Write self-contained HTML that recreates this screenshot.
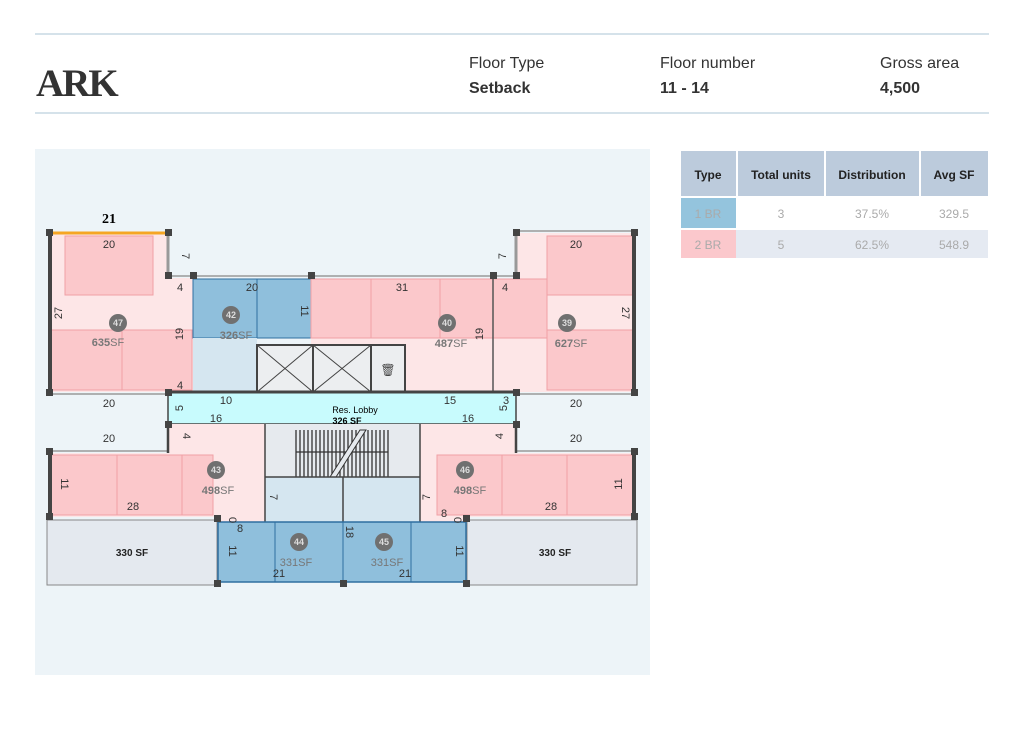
<!DOCTYPE html>
<html><head><meta charset="utf-8"><style>
body{margin:0;width:1024px;height:724px;background:#fff;font-family:"Liberation Sans",sans-serif;overflow:hidden}
svg text{font-family:"Liberation Sans",sans-serif}
</style></head><body>
<svg width="1024" height="724" viewBox="0 0 1024 724" xmlns="http://www.w3.org/2000/svg">
<line x1="35" y1="34" x2="989" y2="34" stroke="#d5e2ea" stroke-width="2"/>
<line x1="35" y1="113" x2="989" y2="113" stroke="#d5e2ea" stroke-width="2"/>
<text x="36" y="96" style="font-family:'Liberation Serif',serif;font-size:39px;font-weight:bold;letter-spacing:-2px" fill="#333">ARK</text>
<g font-size="16" fill="#333">
<text x="469" y="68">Floor Type</text><text x="469" y="93" font-weight="bold">Setback</text>
<text x="660" y="68">Floor number</text><text x="660" y="93" font-weight="bold">11 - 14</text>
<text x="880" y="68">Gross area</text><text x="880" y="93" font-weight="bold">4,500</text>
</g>
<!-- table -->
<g font-size="12" text-anchor="middle">
<rect x="681" y="151" width="55" height="45" fill="#bccbdc"/>
<rect x="738" y="151" width="86" height="45" fill="#bccbdc"/>
<rect x="826" y="151" width="93" height="45" fill="#bccbdc"/>
<rect x="921" y="151" width="67" height="45" fill="#bccbdc"/>
<g fill="#222" font-weight="bold"><text x="708" y="179">Type</text><text x="781" y="179">Total units</text><text x="872" y="179">Distribution</text><text x="954" y="179">Avg SF</text></g>
<rect x="681" y="198" width="55" height="30" fill="#94c4dd"/>
<rect x="681" y="230" width="307" height="28" fill="#e5eaf2"/>
<rect x="681" y="230" width="55" height="28" fill="#fbc8cc"/>
<g fill="#aaa"><text x="708" y="218">1 BR</text><text x="781" y="218">3</text><text x="872" y="218">37.5%</text><text x="954" y="218">329.5</text>
<text x="708" y="249">2 BR</text><text x="781" y="249">5</text><text x="872" y="249">62.5%</text><text x="954" y="249">548.9</text></g>
</g>
<!-- plan bg -->
<rect x="35" y="149" width="615" height="526" fill="#edf4f8"/>
<!-- grey 330 -->
<rect x="47" y="520" width="170" height="65" fill="#e4e9ef" stroke="#888" stroke-width="1"/>
<rect x="467" y="520" width="170" height="65" fill="#e4e9ef" stroke="#888" stroke-width="1"/>
<g font-size="10" font-weight="bold" fill="#222" text-anchor="middle"><text x="132" y="556">330 SF</text><text x="555" y="556">330 SF</text></g>
<!-- unit 47 -->
<path d="M50 233H168V278H193V392H50Z" fill="#fde6e7"/>
<rect x="65" y="236" width="88" height="59" fill="#fbc8cb" stroke="#f0a0a6"/>
<rect x="51" y="330" width="141" height="60" fill="#fbc8cb" stroke="#f0a0a6"/>
<line x1="122" y1="330" x2="122" y2="390" stroke="#f0a0a6"/>
<line x1="50" y1="230" x2="50" y2="392" stroke="#444" stroke-width="4"/>
<line x1="168" y1="233" x2="168" y2="278" stroke="#999" stroke-width="3"/>
<line x1="48" y1="233" x2="170" y2="233" stroke="#f5a623" stroke-width="3"/>
<text x="109" y="223" style="font-family:'Liberation Serif',serif;font-size:14px;font-weight:bold" text-anchor="middle">21</text>
<!-- unit 42 -->
<rect x="193" y="279" width="118" height="59" fill="#8fbfdc" stroke="#2f6fa0"/>
<line x1="257" y1="279" x2="257" y2="338" stroke="#2f6fa0"/>
<rect x="193" y="338" width="64" height="54" fill="#d5e6f0"/>
<!-- unit 40 -->
<rect x="311" y="279" width="182" height="113" fill="#fde6e7"/>
<rect x="311" y="279" width="182" height="59" fill="#fbc8cb" stroke="#f0a0a6"/>
<line x1="371" y1="279" x2="371" y2="338" stroke="#f0a0a6"/>
<line x1="440" y1="279" x2="440" y2="338" stroke="#f0a0a6"/>
<!-- elevators -->
<g stroke="#444" stroke-width="2" fill="#eceef0">
<rect x="257" y="345" width="56" height="47"/><rect x="313" y="345" width="58" height="47"/><rect x="371" y="345" width="34" height="47"/>
</g>
<g stroke="#444" stroke-width="1"><path d="M257 345L313 392M313 345L257 392M313 345L371 392M371 345L313 392"/></g>
<text x="388" y="374" font-size="12" text-anchor="middle" fill="#444">🗑</text>
<!-- unit 39 -->
<path d="M516 233H633V392H493V279H516Z" fill="#fde6e7"/>
<rect x="547" y="236" width="86" height="59" fill="#fbc8cb" stroke="#f0a0a6"/>
<rect x="493" y="279" width="54" height="59" fill="#fbc8cb" stroke="#f0a0a6"/>
<rect x="547" y="330" width="86" height="60" fill="#fbc8cb" stroke="#f0a0a6"/>
<line x1="634" y1="233" x2="634" y2="392" stroke="#444" stroke-width="4"/>
<line x1="516" y1="233" x2="516" y2="279" stroke="#999" stroke-width="3"/>
<line x1="493" y1="279" x2="493" y2="392" stroke="#555" stroke-width="1.5"/>
<!-- outer thin walls -->
<g stroke="#999" stroke-width="1.5" fill="none">
<path d="M168 276H311M311 276H493M493 276H516M516 231H634M50 394H168M516 394H634"/>
</g>
<!-- lobby -->
<rect x="168" y="392" width="348" height="32" fill="#c8fbfd" stroke="#444" stroke-width="1.5"/>
<line x1="168" y1="392" x2="516" y2="392" stroke="#444" stroke-width="3"/>
<text x="355" y="413" font-size="9" text-anchor="middle">Res. Lobby</text>
<text x="347" y="424" font-size="9" font-weight="bold" text-anchor="middle">326 SF</text>
<!-- lower left 43 -->
<path d="M168 424H265V522H218V517H50V453H168Z" fill="#fde6e7"/>
<rect x="51" y="455" width="162" height="60" fill="#fbc8cb" stroke="#f0a0a6"/>
<line x1="117" y1="455" x2="117" y2="515" stroke="#f0a0a6"/><line x1="182" y1="455" x2="182" y2="515" stroke="#f0a0a6"/>
<line x1="50" y1="451" x2="50" y2="519" stroke="#444" stroke-width="4"/>
<!-- lower right 46 -->
<path d="M420 424H516V453H634V517H466V522H420Z" fill="#fde6e7"/>
<rect x="437" y="455" width="196" height="60" fill="#fbc8cb" stroke="#f0a0a6"/>
<line x1="502" y1="455" x2="502" y2="515" stroke="#f0a0a6"/><line x1="567" y1="455" x2="567" y2="515" stroke="#f0a0a6"/>
<line x1="634" y1="451" x2="634" y2="519" stroke="#444" stroke-width="4"/>
<g stroke="#999" stroke-width="1.5"><path d="M50 451H168M516 451H634"/></g>
<g stroke="#444" stroke-width="2.5"><path d="M168 424V453M516 424V453"/></g>
<!-- stairs -->
<rect x="265" y="424" width="155" height="53" fill="#e6eaee"/>
<rect x="265" y="477" width="155" height="45" fill="#d5e6f0"/>
<g stroke="#333" stroke-width="1.3">
<path d="M296 430V477M300 430V477M304 430V477M308 430V477M312 430V477M316 430V477M320 430V477M324 430V477M328 430V477M332 430V477M336 430V477M340 430V477M344 430V477M348 430V477M352 430V477M356 430V477M360 430V477M364 430V477M368 430V477M372 430V477M376 430V477M380 430V477M384 430V477M388 430V477"/>
<path d="M296 452H388"/></g>
<path d="M330 477L360 430L366 430L336 477Z" fill="#e6eaee" stroke="#333"/>
<g stroke="#444" stroke-width="1.5" fill="none"><path d="M265 424V522M420 424V522M343 477V582M265 477H420"/></g>
<!-- units 44/45 -->
<rect x="218" y="522" width="248" height="60" fill="#8fbfdc" stroke="#2f6fa0" stroke-width="1.5"/>
<g stroke="#2f6fa0"><path d="M275 522V582M411 522V582M343 522V582"/></g>
<!-- posts -->
<g fill="#444">
<rect x="46" y="229" width="7" height="7"/><rect x="165" y="229" width="7" height="7"/><rect x="165" y="272" width="7" height="7"/><rect x="190" y="272" width="7" height="7"/><rect x="308" y="272" width="7" height="7"/><rect x="490" y="272" width="7" height="7"/><rect x="513" y="272" width="7" height="7"/><rect x="513" y="229" width="7" height="7"/><rect x="631" y="229" width="7" height="7"/>
<rect x="46" y="389" width="7" height="7"/><rect x="165" y="389" width="7" height="7"/><rect x="513" y="389" width="7" height="7"/><rect x="631" y="389" width="7" height="7"/>
<rect x="165" y="421" width="7" height="7"/><rect x="513" y="421" width="7" height="7"/>
<rect x="46" y="448" width="7" height="7"/><rect x="631" y="448" width="7" height="7"/><rect x="46" y="513" width="7" height="7"/><rect x="631" y="513" width="7" height="7"/>
<rect x="214" y="515" width="7" height="7"/><rect x="463" y="515" width="7" height="7"/><rect x="214" y="580" width="7" height="7"/><rect x="340" y="580" width="7" height="7"/><rect x="463" y="580" width="7" height="7"/>
</g>
<!-- circles -->
<g fill="#707070"><circle cx="118" cy="323" r="9"/><circle cx="231" cy="315" r="9"/><circle cx="447" cy="323" r="9"/><circle cx="567" cy="323" r="9"/><circle cx="216" cy="470" r="9"/><circle cx="465" cy="470" r="9"/><circle cx="299" cy="542" r="9"/><circle cx="384" cy="542" r="9"/></g>
<g font-size="9" fill="#ddd" text-anchor="middle" font-weight="bold"><text x="118" y="326">47</text><text x="231" y="318">42</text><text x="447" y="326">40</text><text x="567" y="326">39</text><text x="216" y="473">43</text><text x="465" y="473">46</text><text x="299" y="545">44</text><text x="384" y="545">45</text></g>
<g font-size="11" fill="#777" text-anchor="middle"><text x="108" y="346"><tspan font-weight="bold">635</tspan>SF</text><text x="236" y="339"><tspan font-weight="bold">326</tspan>SF</text><text x="451" y="347"><tspan font-weight="bold">487</tspan>SF</text><text x="571" y="347"><tspan font-weight="bold">627</tspan>SF</text><text x="218" y="494"><tspan font-weight="bold">498</tspan>SF</text><text x="470" y="494"><tspan font-weight="bold">498</tspan>SF</text><text x="296" y="566">331SF</text><text x="387" y="566">331SF</text></g>
<!-- dims -->
<g font-size="11" fill="#333" text-anchor="middle">
<text x="109" y="248">20</text><text x="180" y="291">4</text><text x="180" y="389">4</text><text x="252" y="291">20</text><text x="402" y="291">31</text><text x="505" y="291">4</text><text x="576" y="248">20</text>
<text x="109" y="407">20</text><text x="226" y="404">10</text><text x="216" y="422">16</text><text x="450" y="404">15</text><text x="468" y="422">16</text><text x="576" y="407">20</text>
<text x="109" y="442">20</text><text x="576" y="442">20</text><text x="133" y="510">28</text><text x="551" y="510">28</text>
<text x="240" y="532">8</text><text x="444" y="517">8</text><text x="279" y="577">21</text><text x="405" y="577">21</text>
<text transform="translate(182,256) rotate(90)">7</text><text transform="translate(506,256) rotate(-90)">7</text>
<text transform="translate(62,313) rotate(-90)">27</text><text transform="translate(622,313) rotate(90)">27</text>
<text transform="translate(301,311) rotate(90)">11</text>
<text transform="translate(183,334) rotate(-90)">19</text><text transform="translate(483,334) rotate(-90)">19</text>
<text transform="translate(183,408) rotate(-90)">5</text><text transform="translate(507,408) rotate(-90)">5</text><text x="506" y="404">3</text>
<text transform="translate(183,436) rotate(90)">4</text><text transform="translate(503,436) rotate(-90)">4</text>
<text transform="translate(61,484) rotate(90)">11</text><text transform="translate(622,484) rotate(-90)">11</text>
<text transform="translate(270,497) rotate(90)">7</text><text transform="translate(430,497) rotate(-90)">7</text>
<text transform="translate(229,520) rotate(90)">0</text><text transform="translate(454,520) rotate(90)">0</text>
<text transform="translate(229,551) rotate(90)">11</text><text transform="translate(456,551) rotate(90)">11</text>
<text transform="translate(346,532) rotate(90)">18</text>
</g>
</svg>
</body></html>
